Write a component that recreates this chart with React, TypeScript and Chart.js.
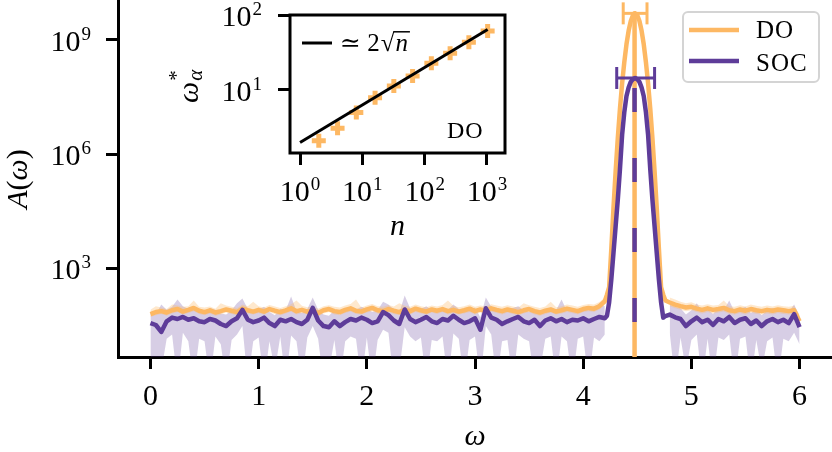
import React, { useEffect, useRef } from 'react';
import { Chart, registerables } from 'chart.js';

Chart.register(...registerables);

const ORANGE = '#fdb863';
const PURPLE = '#5e3c99';
const DO_BAND = 'rgba(253,184,99,0.32)';
const SOC_BAND = 'rgba(94,60,153,0.25)';
const FAM = '"Liberation Serif", "DejaVu Serif", serif';
const TICK_FONT = `30px ${FAM}`;
const SUP_FONT = `19px ${FAM}`;
const IT30 = `italic 30px ${FAM}`;
const RM30 = `30px ${FAM}`;

// ---- omega grids (uniform sampling of the frequency axis) ----
function grid(start: number, step: number, count: number): number[] {
  return Array.from({ length: count }, (_, i) => Math.round((start + i * step) * 1000) / 1000);
}
const omegaLow = grid(0, 0.05, 85);
const omegaPeak = grid(4.22, 0.02, 28);
const omegaHigh = grid(4.8, 0.05, 25);

// ---- DO spectrum ----
const doLow = [
  62, 70, 74, 68, 78, 84, 72, 80, 90, 76,
  70, 78, 68, 74, 82, 76, 70, 86, 78, 72,
  80, 72, 84, 76, 70, 78, 88, 74, 80, 72,
  76, 66, 78, 84, 74, 70, 80, 88, 76, 72,
  82, 90, 78, 74, 84, 76, 70, 80, 74, 86,
  78, 72, 82, 76, 84, 74, 80, 72, 78, 86,
  74, 82, 76, 88, 80, 74, 82, 76, 70, 78,
  84, 74, 68, 76, 82, 72, 78, 86, 80, 74,
  84, 90, 86, 100, 135,
];
const doLowUpper = [
  80, 100, 92, 84, 110, 104, 96, 100, 140, 96,
  92, 98, 86, 120, 104, 96, 90, 110, 100, 130,
  100, 92, 108, 98, 90, 100, 112, 140, 102, 94,
  96, 86, 100, 106, 96, 92, 104, 114, 150, 92,
  104, 114, 100, 96, 108, 98, 120, 102, 96, 110,
  100, 94, 104, 98, 108, 140, 102, 94, 100, 110,
  96, 104, 98, 112, 104, 96, 106, 98, 92, 120,
  106, 96, 90, 98, 130, 94, 100, 110, 104, 96,
  108, 114, 110, 128, 170,
];
const doLowLower = [
  52, 58, 62, 56, 64, 70, 60, 66, 74, 62,
  58, 64, 56, 60, 68, 62, 58, 70, 64, 60,
  66, 60, 70, 62, 58, 64, 72, 60, 66, 60,
  62, 54, 64, 70, 60, 58, 66, 72, 62, 60,
  68, 74, 64, 60, 70, 62, 58, 66, 60, 70,
  64, 60, 68, 62, 70, 60, 66, 60, 64, 70,
  60, 68, 62, 72, 66, 60, 68, 62, 58, 64,
  70, 60, 56, 62, 68, 60, 64, 70, 66, 60,
  70, 74, 70, 82, 110,
];
const doPeak = [
  200, 316, 3.2e3, 3.8e4, 3.5e5, 2.6e6, 1.55e7, 7.2e7, 2.6e8, 7.6e8,
  1.74e9, 3.16e9, 4.47e9, 5.0e9, 4.47e9, 3.16e9, 1.74e9, 7.6e8, 2.6e8, 7.2e7,
  1.55e7, 2.6e6, 3.5e5, 3.8e4, 3.2e3, 316, 200, 141,
];
const doHigh = [125, 110, 100, 92, 96, 86, 80, 88, 80, 84, 90, 78, 74, 82, 76, 84, 78, 74, 80, 76, 82, 78, 74, 78, 40];
const doHighUpper = [170, 150, 130, 120, 126, 110, 104, 112, 104, 108, 140, 100, 96, 106, 98, 110, 102, 96, 104, 98, 106, 100, 96, 102, 60];
const doHighLower = [100, 88, 80, 74, 78, 70, 64, 70, 64, 68, 72, 62, 60, 66, 60, 68, 62, 60, 64, 60, 66, 62, 60, 62, 32];

// ---- SOC spectrum ----
const socLow = [
  36, 32, 21, 40, 50, 46, 52, 44, 48, 40,
  38, 46, 42, 34, 30, 40, 48, 80, 44, 38,
  42, 50, 36, 30, 44, 40, 46, 38, 34, 44,
  90, 42, 30, 28, 40, 30, 38, 46, 42, 50,
  44, 36, 40, 70, 58, 42, 34, 82, 46, 38,
  44, 52, 40, 36, 46, 42, 56, 44, 36, 40,
  48, 24, 88, 50, 44, 34, 40, 46, 52, 40,
  36, 44, 30, 42, 48, 40, 46, 38, 44, 42,
  48, 40, 46, 52, 48,
];
const socLowUpper = [
  70, 60, 110, 80, 96, 150, 100, 84, 90, 76,
  72, 90, 80, 64, 60, 78, 120, 160, 84, 72,
  80, 96, 70, 58, 86, 78, 180, 74, 66, 84,
  170, 80, 60, 56, 78, 60, 74, 90, 80, 96,
  84, 70, 78, 130, 110, 80, 66, 190, 88, 74,
  84, 100, 78, 70, 90, 80, 110, 84, 70, 78,
  92, 50, 170, 96, 84, 66, 78, 90, 100, 78,
  70, 84, 60, 80, 92, 78, 150, 74, 84, 80,
  92, 78, 90, 120, 100,
];
const socLowLower = [
  3, 1, 2, 14, 18, 1, 20, 12, 1, 14,
  12, 1, 16, 10, 1, 13, 18, 30, 1, 12,
  15, 1, 12, 2, 16, 1, 17, 12, 1, 15,
  30, 14, 1, 2, 13, 1, 12, 16, 14, 1,
  15, 1, 13, 24, 20, 1, 2, 28, 16, 12,
  15, 1, 13, 12, 16, 1, 19, 14, 1, 13,
  16, 1, 30, 18, 1, 12, 13, 1, 18, 14,
  12, 1, 2, 14, 16, 1, 16, 12, 1, 14,
  16, 1, 15, 12, 18,
];
const socPeak = [
  56, 126, 500, 2.5e3, 1.26e4, 6.3e4, 4.0e5, 3.2e6, 1.26e7, 3.3e7,
  5.6e7, 7.9e7, 9.3e7, 1.0e8, 9.3e7, 7.9e7, 5.6e7, 3.3e7, 1.26e7, 3.2e6,
  4.0e5, 6.3e4, 1.26e4, 2.5e3, 500, 126, 50, 55,
];
const socHigh = [60, 51, 46, 30, 40, 50, 38, 44, 32, 46, 40, 52, 36, 44, 48, 34, 42, 30, 40, 46, 38, 44, 36, 62, 28];
const socHighUpper = [110, 96, 88, 60, 78, 120, 74, 84, 62, 90, 78, 140, 70, 84, 96, 66, 80, 58, 78, 90, 74, 86, 70, 110, 55];
const socHighLower = [20, 1, 15, 2, 13, 18, 1, 14, 1, 15, 13, 18, 1, 14, 16, 1, 13, 2, 12, 15, 1, 14, 12, 20, 10];

// ---- peak markers ----
const peakOmega = 4.475;
const doPeakValue = 5.0e9;
const socPeakValue = 1.0e8;
const doErrRange = [4.37, 4.59];
const socErrRange = [4.31, 4.66];
const floorValue = 1;

// ---- axes ----
const mainXTicks = [0, 1, 2, 3, 4, 5, 6];
const mainYTicks = [1e3, 1e6, 1e9];
const mainYExps = ['3', '6', '9'];

// ---- inset data ----
const insetN = [2, 4, 8, 16, 32, 64, 128, 256, 512, 1024];
const insetOmegaStar = [2.1, 3.1, 5.0, 7.9, 11.3, 15.4, 22.7, 30.8, 43.3, 61.2];
const fitN = [1, 1024];
const fitOmega = [2, 64];
const insetXTicks = [1, 10, 100, 1000];
const insetXExps = ['0', '1', '2', '3'];
const insetYTicks = [10, 100];
const insetYExps = ['1', '2'];

const pts = (xs: number[], ys: number[]) => xs.map((x, i) => ({ x, y: ys[i] }));

function drawPow(ctx: CanvasRenderingContext2D, exp: string, ax: number, cy: number, align: 'right' | 'center') {
  ctx.textAlign = 'left';
  ctx.textBaseline = 'alphabetic';
  ctx.font = TICK_FONT;
  const bw = ctx.measureText('10').width;
  ctx.font = SUP_FONT;
  const ew = ctx.measureText(exp).width;
  const total = bw + 1 + ew;
  const x0 = align === 'right' ? ax - total : ax - total / 2;
  ctx.font = TICK_FONT;
  ctx.fillText('10', x0, cy + 11);
  ctx.font = SUP_FONT;
  ctx.fillText(exp, x0 + bw + 1, cy);
}

const mainTextPlugin = {
  id: 'mainText',
  afterDraw(chart: any) {
    const ctx: CanvasRenderingContext2D = chart.ctx;
    const xs = chart.scales.x;
    const ys = chart.scales.y;
    ctx.save();
    ctx.fillStyle = '#000';
    mainYTicks.forEach((v, i) => drawPow(ctx, mainYExps[i], 91, ys.getPixelForValue(v), 'right'));
    ctx.font = TICK_FONT;
    ctx.textAlign = 'center';
    mainXTicks.forEach((v) => ctx.fillText(String(v), xs.getPixelForValue(v), 405));
    ctx.font = IT30;
    ctx.fillText('ω', (xs.left + xs.right) / 2, 445);

    // y title  A(ω)
    ctx.save();
    ctx.translate(27, 179);
    ctx.rotate(-Math.PI / 2);
    const parts: [string, string][] = [['A', IT30], ['(', RM30], ['ω', IT30], [')', RM30]];
    let tot = 0;
    parts.forEach(([t, f]) => { ctx.font = f; tot += ctx.measureText(t).width; });
    let x = -tot / 2;
    ctx.textAlign = 'left';
    parts.forEach(([t, f]) => { ctx.font = f; ctx.fillText(t, x, 0); x += ctx.measureText(t).width; });
    ctx.restore();

    // legend
    ctx.beginPath();
    (ctx as any).roundRect(683, 12, 136, 70, 5);
    ctx.fillStyle = 'rgba(255,255,255,0.8)';
    ctx.fill();
    ctx.strokeStyle = '#d4d4d4';
    ctx.lineWidth = 2;
    ctx.stroke();
    ctx.lineCap = 'butt';
    ctx.lineWidth = 4.5;
    ctx.strokeStyle = ORANGE;
    ctx.beginPath(); ctx.moveTo(689, 30); ctx.lineTo(739, 30); ctx.stroke();
    ctx.strokeStyle = PURPLE;
    ctx.beginPath(); ctx.moveTo(689, 61); ctx.lineTo(739, 61); ctx.stroke();
    ctx.fillStyle = '#000';
    ctx.font = `25px ${FAM}`;
    (ctx as any).letterSpacing = '1px';
    ctx.textAlign = 'left';
    ctx.fillText('DO', 756, 38);
    ctx.fillText('SOC', 756, 71);
    (ctx as any).letterSpacing = '0px';
    ctx.restore();
  },
};

const insetTextPlugin = {
  id: 'insetText',
  afterDraw(chart: any) {
    const ctx: CanvasRenderingContext2D = chart.ctx;
    const xs = chart.scales.x;
    const ys = chart.scales.y;
    const ca = chart.chartArea;
    ctx.save();
    ctx.strokeStyle = '#000';
    ctx.lineWidth = 3;
    ctx.strokeRect(ca.left, ca.top, ca.right - ca.left, ca.bottom - ca.top);
    ctx.fillStyle = '#000';
    insetYTicks.forEach((v, i) => drawPow(ctx, insetYExps[i], 112, ys.getPixelForValue(v), 'right'));
    insetXTicks.forEach((v, i) => drawPow(ctx, insetXExps[i], xs.getPixelForValue(v), 190, 'center'));
    ctx.font = IT30;
    ctx.textAlign = 'center';
    ctx.fillText('n', (xs.left + xs.right) / 2 + 0, 235);

    // y title  ω*_α
    ctx.save();
    ctx.translate(48, 103);
    ctx.rotate(-Math.PI / 2);
    ctx.textAlign = 'left';
    ctx.font = IT30;
    ctx.fillText('ω', 0, 0);
    const w = ctx.measureText('ω').width;
    ctx.font = `21px ${FAM}`;
    ctx.fillText('*', w + 1, -15);
    ctx.font = `italic 21px ${FAM}`;
    ctx.fillText('α', w + 1, 4);
    ctx.restore();

    // legend: line + ≃ 2√n
    ctx.strokeStyle = '#000';
    ctx.lineWidth = 3;
    ctx.beginPath(); ctx.moveTo(152, 43); ctx.lineTo(182, 43); ctx.stroke();
    ctx.textAlign = 'left';
    ctx.font = `25px ${FAM}`;
    let x = 190;
    ctx.fillText('≃ 2', x, 51);
    x += ctx.measureText('≃ 2').width + 1;
    const sq = ctx.measureText('√');
    ctx.fillText('√', x, 51);
    const top = 51 - sq.actualBoundingBoxAscent + 0.8;
    x += sq.width;
    ctx.font = `italic 25px ${FAM}`;
    ctx.fillText('n', x + 1, 51);
    const nw = ctx.measureText('n').width;
    ctx.lineWidth = 1.5;
    ctx.beginPath(); ctx.moveTo(x - 1, top); ctx.lineTo(x + nw + 3, top); ctx.stroke();

    ctx.font = `24px ${FAM}`;
    (ctx as any).letterSpacing = '1px';
    ctx.fillText('DO', 297, 138);
    (ctx as any).letterSpacing = '0px';
    ctx.restore();
  },
};

function axisCommon(width: number) {
  return {
    grid: { drawOnChartArea: false, drawTicks: true, tickLength: 12, color: '#000', lineWidth: width, tickWidth: width },
    ticks: { callback: () => '', font: { size: 1 } },
  };
}

function lineDs(data: any[], color: string, width: number, extra: any = {}) {
  return {
    data, borderColor: color, borderWidth: width, pointRadius: 0, fill: false, tension: 0,
    borderJoinStyle: 'round', ...extra,
  };
}

function bandDs(upper: any[], lower: any[], color: string) {
  return [
    { data: upper, borderColor: 'rgba(0,0,0,0)', borderWidth: 1, pointRadius: 0, tension: 0, fill: '+1', backgroundColor: color },
    { data: lower, borderColor: 'rgba(0,0,0,0)', borderWidth: 1, pointRadius: 0, tension: 0, fill: false },
  ];
}

function mainConfig(): any {
  const omegaAll = [...omegaLow, ...omegaPeak, ...omegaHigh];
  const datasets = [
    lineDs(pts(socErrRange, [socPeakValue, socPeakValue]), PURPLE, 3, {
      pointRadius: 11, pointStyle: 'line', pointRotation: 90, pointBorderWidth: 3, pointBorderColor: PURPLE,
    }),
    lineDs(pts(doErrRange, [doPeakValue, doPeakValue]), ORANGE, 3, {
      pointRadius: 11, pointStyle: 'line', pointRotation: 90, pointBorderWidth: 3, pointBorderColor: ORANGE,
    }),
    lineDs(pts([peakOmega, peakOmega], [socPeakValue, floorValue]), PURPLE, 4.5, {
      borderDash: [24, 46], borderDashOffset: 60, borderCapStyle: 'butt',
    }),
    lineDs(pts(omegaAll, [...socLow, ...socPeak, ...socHigh]), PURPLE, 4.5),
    lineDs(pts([peakOmega, peakOmega], [doPeakValue, floorValue]), ORANGE, 4.5),
    lineDs(pts(omegaAll, [...doLow, ...doPeak, ...doHigh]), ORANGE, 4.5),
    ...bandDs(pts(omegaLow, doLowUpper), pts(omegaLow, doLowLower), DO_BAND),
    ...bandDs(pts(omegaHigh, doHighUpper), pts(omegaHigh, doHighLower), DO_BAND),
    ...bandDs(pts(omegaLow, socLowUpper), pts(omegaLow, socLowLower), SOC_BAND),
    ...bandDs(pts(omegaHigh, socHighUpper), pts(omegaHigh, socHighLower), SOC_BAND),
  ];
  return {
    type: 'line',
    data: { datasets },
    options: {
      responsive: false,
      animation: false,
      events: [],
      layout: { padding: 0, autoPadding: false },
      plugins: { legend: { display: false }, tooltip: { enabled: false }, filler: { propagate: false } },
      scales: {
        x: {
          type: 'linear', min: -0.3, max: 6.3,
          ...axisCommon(3),
          border: { display: true, color: '#000', width: 3 },
          afterBuildTicks: (s: any) => { s.ticks = mainXTicks.map((value) => ({ value })); },
          afterFit: (s: any) => { s.height = 95; s.paddingLeft = 0; s.paddingRight = 0; },
        },
        y: {
          type: 'logarithmic', min: 4.61, max: 1.122e10,
          ...axisCommon(3),
          border: { display: true, color: '#000', width: 3 },
          afterBuildTicks: (s: any) => { s.ticks = mainYTicks.map((value) => ({ value })); },
          afterFit: (s: any) => { s.width = 118; s.paddingTop = 0; s.paddingBottom = 0; },
        },
      },
    },
    plugins: [mainTextPlugin],
  };
}

function insetConfig(): any {
  const datasets = [
    lineDs(pts(fitN, fitOmega), '#000', 3),
    {
      data: pts(insetN, insetOmegaStar), showLine: false, borderColor: ORANGE, backgroundColor: ORANGE,
      pointStyle: 'cross', pointRadius: 7, pointBorderWidth: 5, pointBorderColor: ORANGE,
    },
  ];
  return {
    type: 'line',
    data: { datasets },
    options: {
      responsive: false,
      animation: false,
      events: [],
      layout: { padding: { top: 15, right: 15, left: 0, bottom: 0 }, autoPadding: false },
      plugins: { legend: { display: false }, tooltip: { enabled: false } },
      scales: {
        x: {
          type: 'logarithmic', min: 0.69, max: 1945,
          ...axisCommon(3),
          border: { display: false },
          afterBuildTicks: (s: any) => { s.ticks = insetXTicks.map((value) => ({ value })); },
          afterFit: (s: any) => { s.height = 92; s.paddingLeft = 0; s.paddingRight = 0; },
        },
        y: {
          type: 'logarithmic', min: 1.445, max: 100,
          ...axisCommon(3),
          border: { display: false },
          afterBuildTicks: (s: any) => { s.ticks = insetYTicks.map((value) => ({ value })); },
          afterFit: (s: any) => { s.width = 140; s.paddingTop = 0; s.paddingBottom = 0; },
        },
      },
    },
    plugins: [insetTextPlugin],
  };
}

export default function App() {
  const mainRef = useRef<HTMLCanvasElement>(null);
  const insetRef = useRef<HTMLCanvasElement>(null);
  useEffect(() => {
    const c1 = new Chart(mainRef.current as HTMLCanvasElement, mainConfig());
    const c2 = new Chart(insetRef.current as HTMLCanvasElement, insetConfig());
    return () => { c1.destroy(); c2.destroy(); };
  }, []);
  return (
    <div style={{ position: 'absolute', left: 0, top: 0, width: 832, height: 452, background: '#fff', overflow: 'hidden' }}>
      <canvas ref={mainRef} width={832} height={452} style={{ position: 'absolute', left: 0, top: 0, width: 832, height: 452 }} />
      <canvas ref={insetRef} width={370} height={245} style={{ position: 'absolute', left: 150, top: 0, width: 370, height: 245 }} />
    </div>
  );
}
